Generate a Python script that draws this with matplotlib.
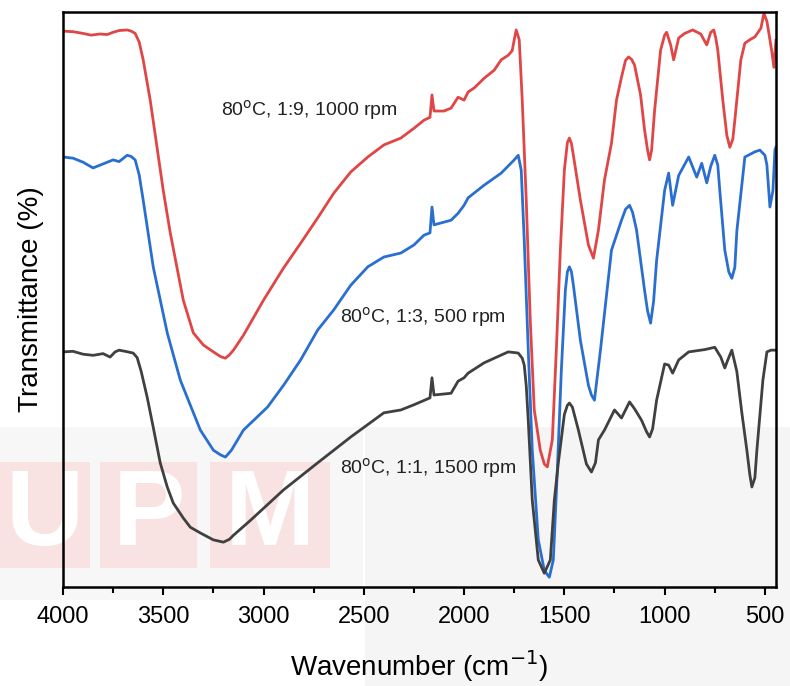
import matplotlib.pyplot as plt
from matplotlib.patches import Rectangle
import numpy as np

plt.rcParams["font.family"] = ["Liberation Sans", "DejaVu Sans"]

# FTIR spectra, wavenumber (cm-1) and transmittance on an offset scale
red_wn = [4000, 3950, 3900, 3860, 3815, 3780, 3750, 3720, 3680, 3660, 3640, 3620,
          3600, 3565, 3500, 3465, 3400, 3350, 3300, 3250, 3215, 3190, 3170, 3150,
          3100, 3000, 2900, 2815, 2730, 2650, 2565, 2480, 2400, 2315, 2250, 2200,
          2170, 2160, 2150, 2100, 2065, 2030, 2000, 1980, 1950, 1900, 1850, 1815,
          1780, 1760, 1750, 1740, 1725, 1710, 1690, 1670, 1650, 1620, 1600, 1585,
          1560, 1540, 1520, 1500, 1485, 1475, 1465, 1455, 1420, 1380, 1355, 1330,
          1300, 1265, 1240, 1215, 1195, 1180, 1165, 1150, 1120, 1100, 1085, 1075,
          1065, 1050, 1020, 1000, 990, 970, 955, 930, 900, 860, 820, 790, 770,
          755, 745, 735, 710, 690, 675, 660, 650, 620, 600, 575, 550, 520, 505,
          490, 480, 465, 455, 445]
red_t = [96.7, 96.6, 96.3, 96.0, 96.2, 96.1, 96.5, 96.8, 96.9, 96.7, 96.3, 94.8,
         91.7, 84.7, 69.0, 61.6, 49.9, 44.2, 42.1, 40.9, 40.1, 39.8, 40.4, 41.2,
         43.8, 49.9, 55.5, 59.8, 64.2, 68.5, 72.2, 74.8, 76.9, 78.1, 79.8, 81.2,
         81.7, 85.6, 82.8, 82.8, 83.3, 85.2, 84.7, 86.1, 86.8, 88.5, 89.9, 91.7,
         92.5, 93.3, 95.2, 96.9, 95.2, 84.7, 67.3, 46.4, 30.8, 23.8, 21.4, 20.9,
         25.6, 41.2, 58.6, 72.5, 77.3, 78.1, 77.2, 75.1, 67.3, 59.5, 57.2, 62.1,
         70.8, 77.2, 84.7, 88.7, 91.6, 92.2, 91.8, 90.8, 85.6, 79.5, 76.0, 74.3,
         76.0, 82.9, 93.4, 96.0, 96.5, 94.3, 91.7, 95.5, 96.3, 96.9, 96.2, 94.3,
         96.5, 96.9, 95.5, 93.4, 84.7, 78.6, 76.5, 77.9, 81.2, 91.7, 94.6, 95.2,
         95.7, 97.2, 99.8, 98.4, 96.3, 93.0, 90.4, 95.1]

blue_wn = [4000, 3950, 3900, 3850, 3800, 3750, 3720, 3680, 3660, 3640, 3620, 3600,
           3550, 3480, 3415, 3360, 3315, 3250, 3215, 3190, 3160, 3100, 2980, 2900,
           2815, 2730, 2650, 2565, 2480, 2400, 2315, 2250, 2200, 2170, 2160, 2150,
           2065, 2030, 2000, 1980, 1900, 1815, 1750, 1730, 1715, 1700, 1680, 1660,
           1630, 1600, 1575, 1555, 1535, 1515, 1495, 1485, 1475, 1465, 1455, 1420,
           1380, 1365, 1350, 1320, 1265, 1215, 1195, 1175, 1160, 1140, 1100, 1085,
           1070, 1055, 1040, 1000, 980, 960, 930, 880, 840, 815, 790, 770, 750,
           735, 725, 700, 680, 665, 650, 640, 600, 550, 525, 500, 490, 475, 460,
           450, 445]
blue_t = [74.8, 74.6, 73.9, 72.9, 73.6, 74.3, 74.0, 75.1, 74.9, 74.3, 71.7, 67.3,
          55.7, 44.2, 36.0, 31.2, 27.3, 23.8, 23.0, 22.6, 23.8, 27.3, 31.3, 35.1,
          39.5, 44.7, 48.2, 52.5, 55.7, 57.4, 58.1, 59.5, 61.2, 61.6, 66.1, 63.0,
          63.8, 65.0, 66.4, 67.7, 69.9, 72.0, 74.3, 75.1, 72.5, 60.3, 41.2, 23.8,
          8.2, 2.9, 1.7, 4.7, 20.3, 37.7, 51.6, 54.8, 55.7, 54.9, 52.5, 42.9,
          35.1, 33.4, 32.5, 41.2, 58.6, 63.8, 65.7, 66.4, 65.2, 62.1, 51.6, 48.0,
          45.9, 49.7, 56.8, 69.0, 72.0, 66.4, 71.6, 74.8, 71.3, 73.7, 70.3, 73.2,
          75.1, 73.4, 69.0, 58.6, 54.8, 53.7, 55.6, 61.9, 74.8, 75.7, 76.0, 75.1,
          73.4, 66.1, 69.0, 76.0, 76.5]

gray_wn = [4000, 3950, 3900, 3850, 3800, 3765, 3740, 3720, 3690, 3650, 3630, 3610,
           3580, 3550, 3515, 3480, 3450, 3400, 3365, 3315, 3250, 3200, 3170, 3150,
           3065, 2900, 2730, 2565, 2400, 2315, 2250, 2170, 2160, 2150, 2065, 2030,
           2000, 1980, 1900, 1780, 1730, 1710, 1700, 1690, 1680, 1660, 1630, 1600,
           1570, 1550, 1530, 1500, 1485, 1475, 1460, 1430, 1390, 1365, 1345, 1330,
           1300, 1250, 1215, 1175, 1150, 1115, 1090, 1075, 1060, 1040, 1000, 980,
           960, 930, 880, 800, 750, 720, 700, 685, 665, 640, 615, 590, 575, 565,
           550, 540, 510, 490, 470, 445]
gray_t = [40.9, 41.0, 40.5, 40.3, 40.6, 40.0, 40.9, 41.2, 41.0, 40.7, 39.9, 37.5,
          33.0, 27.8, 21.6, 17.4, 14.6, 12.0, 10.4, 9.4, 8.2, 7.8, 8.3, 9.0,
          11.6, 16.9, 21.6, 26.1, 30.3, 30.8, 31.7, 32.9, 36.4, 33.4, 33.7, 35.8,
          36.4, 37.2, 39.0, 40.9, 40.7, 39.8, 38.6, 35.0, 29.0, 15.1, 4.7, 2.4,
          4.7, 15.1, 21.6, 30.0, 31.6, 32.0, 31.3, 27.3, 21.4, 20.0, 21.6, 25.6,
          27.3, 30.8, 29.4, 32.2, 31.0, 29.0, 27.0, 26.1, 27.5, 32.5, 38.8, 38.6,
          37.2, 39.5, 40.9, 41.3, 41.7, 40.0, 38.1, 39.5, 41.2, 37.5, 30.3, 23.8,
          19.5, 17.4, 19.0, 23.8, 36.0, 40.9, 41.2, 41.2]

labels = ["80$^{\\rm o}$C, 1:9, 1000 rpm", "80$^{\\rm o}$C, 1:3, 500 rpm",
          "80$^{\\rm o}$C, 1:1, 1500 rpm"]

fig = plt.figure(figsize=(7.9, 6.86), dpi=100)

# faint repository watermark behind the plot
fig.patches.append(Rectangle((0, 0.125), 0.46, 0.253, transform=fig.transFigure,
                             facecolor="#f7f7f7", edgecolor="none", zorder=-4))
fig.patches.append(Rectangle((0.462, 0), 0.538, 0.378, transform=fig.transFigure,
                             facecolor="#f5f5f5", edgecolor="none", zorder=-4))
blocks = [(0.0, 0.114), (0.127, 0.122), (0.266, 0.152)]
for ch, (x0, w) in zip("UPM", blocks):
    fig.patches.append(Rectangle((x0, 0.172), w, 0.155, transform=fig.transFigure,
                                 facecolor="#f8e2e2", edgecolor="none", zorder=-3))
    fig.text(x0 + w / 2, 0.246, ch, fontsize=78, fontweight="bold", color="white",
             ha="center", va="center", zorder=-2)

ax = fig.add_axes([0.0797, 0.1443, 0.9025, 0.838])
ax.set_facecolor("none")

ax.plot(red_wn, red_t, color="#e04646", lw=2)
ax.plot(blue_wn, blue_t, color="#2a6fd0", lw=2)
ax.plot(gray_wn, gray_t, color="#404040", lw=2)

ax.text(3210, 82.9, labels[0], fontsize=14, va="center", color="#222222")
ax.text(2620, 46.9, labels[1], fontsize=14, va="center", color="#222222")
ax.text(2620, 20.7, labels[2], fontsize=14, va="center", color="#222222")

ax.set_xlim(4000, 445)
ax.set_ylim(0, 100)
ax.set_xticks(np.arange(4000, 499, -500))
ax.set_xticks(np.arange(3750, 499, -500), minor=True)
ax.set_yticks([])
ax.tick_params(axis="x", which="major", length=6, width=1.5, labelsize=17, pad=8)
ax.tick_params(axis="x", which="minor", length=4, width=1.5)
for s in ax.spines.values():
    s.set_linewidth(1.8)

ax.set_xlabel("Wavenumber (cm$^{-1}$)", fontsize=20, labelpad=14)
ax.set_ylabel("Transmittance (%)", fontsize=20, labelpad=14)

fig.savefig("out.png", dpi=100)
